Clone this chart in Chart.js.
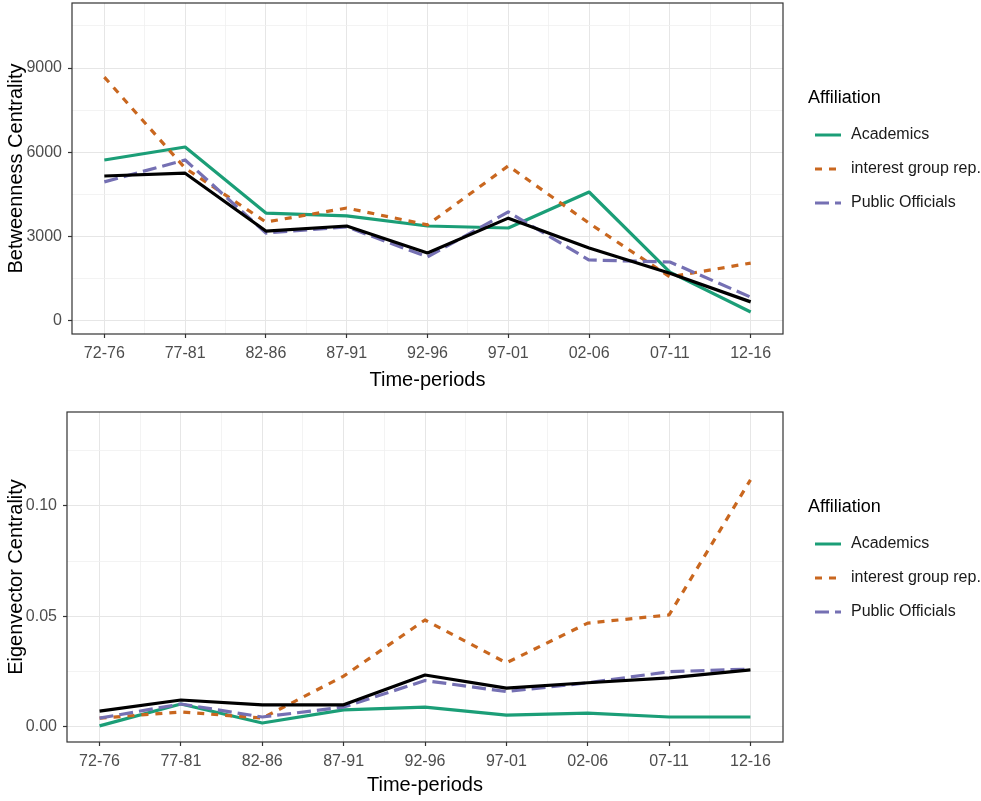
<!DOCTYPE html>
<html>
<head>
<meta charset="utf-8">
<script src="https://cdn.jsdelivr.net/npm/chart.js@4.4.1/dist/chart.umd.min.js"></script>
<style>
  body { margin: 0; background: #fff; }
  .wrap { position: relative; width: 981px; }
  #betweenWrap { height: 400px; }
  #eigenWrap { height: 401px; }
</style>
</head>
<body>
<div class="wrap" id="betweenWrap"><canvas id="betweenChart"></canvas></div>
<div class="wrap" id="eigenWrap"><canvas id="eigenChart"></canvas></div>
<script>
const periods = ['72-76', '77-81', '82-86', '87-91', '92-96', '97-01', '02-06', '07-11', '12-16'];

// betweenness centrality by affiliation
const btwAcademics = [5730, 6190, 3840, 3740, 3380, 3310, 4590, 1740, 320];
const btwInterest  = [8680, 5440, 3520, 4020, 3420, 5520, 3480, 1570, 2060];
const btwOfficials = [4950, 5730, 3130, 3350, 2280, 3880, 2170, 2100, 850];
const btwAll       = [5160, 5260, 3200, 3380, 2420, 3660, 2600, 1700, 680];
const btwTicks = [0, 3000, 6000, 9000];
const btwMinor = [1500, 4500, 7500, 10500];

// eigenvector centrality by affiliation
const eigAcademics = [0.0005, 0.0104, 0.0018, 0.0077, 0.0090, 0.0054, 0.0063, 0.0045, 0.0045];
const eigInterest  = [0.0040, 0.0068, 0.0040, 0.0230, 0.0484, 0.0290, 0.0470, 0.0507, 0.1118];
const eigOfficials = [0.0040, 0.0104, 0.0045, 0.0090, 0.0210, 0.0160, 0.0200, 0.0250, 0.0262];
const eigAll       = [0.0072, 0.0122, 0.0100, 0.0100, 0.0235, 0.0176, 0.0200, 0.0222, 0.0258];
const eigTicks = [0, 0.05, 0.10];
const eigMinor = [0.025, 0.075, 0.125];

const legendTitle = 'Affiliation';
const colAcad = '#1b9e77';
const colInt = '#c9671f';
const colOff = '#7570b3';

const FONT = 'Liberation Sans, Arial, sans-serif';

function pts(vals) {
  return vals.map((v, i) => ({ x: i, y: v }));
}

function makeSets(acad, inter, off, all) {
  return [
    { label: 'Academics', data: pts(acad), borderColor: colAcad, borderDash: [], order: 3, inLegend: true },
    { label: 'interest group rep.', data: pts(inter), borderColor: colInt, borderDash: [7, 7], order: 2, inLegend: true },
    { label: 'Public Officials', data: pts(off), borderColor: colOff, borderDash: [14, 6], order: 1, inLegend: true },
    { label: 'All', data: pts(all), borderColor: '#000', borderDash: [], order: 0, inLegend: false }
  ].map(d => Object.assign(d, {
    borderWidth: 3.2, pointRadius: 0, tension: 0, fill: false,
    borderCapStyle: 'butt', borderJoinStyle: 'round'
  }));
}

// panel border drawn over the lines, plus the legend on the right
const panelPlugin = {
  id: 'panel',
  afterDatasetsDraw(chart) {
    const a = chart.chartArea, ctx = chart.ctx;
    ctx.save();
    ctx.strokeStyle = '#333';
    ctx.lineWidth = 1.2;
    ctx.strokeRect(a.left, a.top, a.right - a.left, a.bottom - a.top);
    ctx.restore();
  },
  afterDraw(chart, args, opts) {
    const ctx = chart.ctx;
    ctx.save();
    ctx.fillStyle = '#000';
    ctx.font = '18px ' + FONT;
    ctx.textBaseline = 'middle';
    ctx.fillText(legendTitle, 808, opts.top);
    ctx.font = '16px ' + FONT;
    ctx.fillStyle = '#1a1a1a';
    let y = opts.top + 37;
    chart.data.datasets.filter(d => d.inLegend).forEach(d => {
      ctx.strokeStyle = d.borderColor;
      ctx.lineWidth = 3;
      ctx.setLineDash(d.borderDash);
      ctx.beginPath();
      ctx.moveTo(815, y);
      ctx.lineTo(841, y);
      ctx.stroke();
      ctx.setLineDash([]);
      ctx.fillText(d.label, 851, y);
      y += 34;
    });
    ctx.restore();
  }
};

function makeChart(id, sets, cfg) {
  const allTicks = cfg.major.concat(cfg.minor).sort((a, b) => a - b);
  const isMajorY = v => cfg.major.some(m => Math.abs(m - v) < 1e-9);
  const xTicks = [];
  for (let i = 0; i < periods.length; i++) {
    xTicks.push(i);
    if (i < periods.length - 1) xTicks.push(i + 0.5);
  }
  return new Chart(document.getElementById(id), {
    type: 'line',
    data: { datasets: sets },
    plugins: [panelPlugin],
    options: {
      responsive: true,
      maintainAspectRatio: false,
      animation: false,
      layout: { padding: { top: cfg.padTop, right: 198, left: 0, bottom: 0 } },
      plugins: {
        legend: { display: false },
        tooltip: { enabled: false },
        panel: { top: cfg.legendTop }
      },
      scales: {
        x: {
          type: 'linear',
          min: -0.4,
          max: periods.length - 1 + 0.4,
          afterBuildTicks: s => { s.ticks = xTicks.map(v => ({ value: v })); },
          afterFit: s => {
            s.height = cfg.xHeight;
            s.paddingLeft = 0;
            s.paddingRight = 0;
          },
          border: { display: false },
          grid: {
            color: c => Number.isInteger(c.tick.value) ? '#e6e6e6' : '#f0f0f0',
            lineWidth: c => Number.isInteger(c.tick.value) ? 1 : 0.8,
            tickColor: c => Number.isInteger(c.tick.value) ? '#333' : 'rgba(0,0,0,0)',
            tickLength: 4,
            tickWidth: 1.2
          },
          ticks: {
            autoSkip: false,
            maxRotation: 0,
            padding: 6,
            color: '#4d4d4d',
            font: { family: FONT, size: 16 },
            callback: v => Number.isInteger(v) ? periods[v] : ''
          },
          title: {
            display: true,
            text: 'Time-periods',
            color: '#000',
            font: { family: FONT, size: 20 },
            padding: { top: 0, bottom: cfg.xTitlePad }
          }
        },
        y: {
          min: cfg.min,
          max: cfg.max,
          afterBuildTicks: s => { s.ticks = allTicks.map(v => ({ value: v })); },
          afterFit: s => {
            s.width = cfg.yWidth;
            s.paddingTop = 0;
            s.paddingBottom = 0;
          },
          border: { display: false },
          grid: {
            color: c => isMajorY(c.tick.value) ? '#e6e6e6' : '#f0f0f0',
            lineWidth: c => isMajorY(c.tick.value) ? 1 : 0.8,
            tickColor: c => isMajorY(c.tick.value) ? '#333' : 'rgba(0,0,0,0)',
            tickLength: 4,
            tickWidth: 1.2
          },
          ticks: {
            padding: 6,
            color: '#4d4d4d',
            font: { family: FONT, size: 16 },
            callback: v => isMajorY(v) ? cfg.fmt(v) : ''
          },
          title: {
            display: true,
            text: cfg.yTitle,
            color: '#000',
            font: { family: FONT, size: 20 },
            padding: { top: 4, bottom: 0 }
          }
        }
      }
    }
  });
}

makeChart('betweenChart', makeSets(btwAcademics, btwInterest, btwOfficials, btwAll), {
  major: btwTicks, minor: btwMinor, min: -463, max: 11316,
  padTop: 3, xHeight: 66, yWidth: 72, xTitlePad: 8,
  legendTop: 98, yTitle: 'Betweenness Centrality',
  fmt: v => String(v)
});

makeChart('eigenChart', makeSets(eigAcademics, eigInterest, eigOfficials, eigAll), {
  major: eigTicks, minor: eigMinor, min: -0.0068, max: 0.1425,
  padTop: 12, xHeight: 59, yWidth: 67, xTitlePad: 4,
  legendTop: 107, yTitle: 'Eigenvector Centrality',
  fmt: v => v.toFixed(2)
});
</script>
</body>
</html>
